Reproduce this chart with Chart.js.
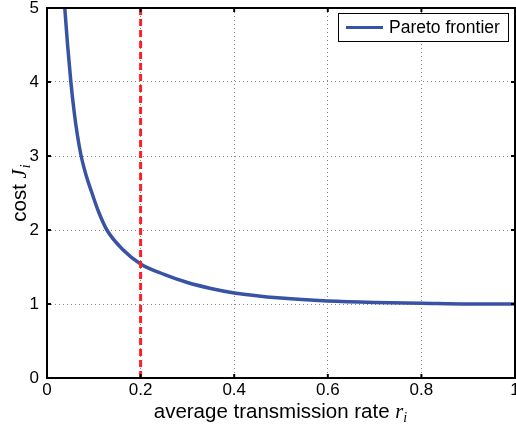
<!DOCTYPE html>
<html>
<head>
<meta charset="utf-8">
<script src="https://cdn.jsdelivr.net/npm/chart.js@4"></script>
<style>
  html, body { margin: 0; padding: 0; background: #fff; }
  #wrap { width: 516px; height: 427px; }
</style>
</head>
<body>
<div id="wrap"><canvas id="pareto_chart" width="516" height="427"></canvas></div>
<script>
// values
const rates = [0.038, 0.044, 0.051, 0.058, 0.065, 0.073, 0.084, 0.095, 0.11, 0.128, 0.163, 0.2, 0.25, 0.3, 0.35, 0.4, 0.5, 0.6, 0.7, 0.8, 0.9, 1.0];
const costs = [5.0, 4.5, 4.0, 3.6, 3.28, 3.0, 2.73, 2.52, 2.25, 2.0, 1.73, 1.54, 1.4, 1.29, 1.21, 1.15, 1.08, 1.04, 1.02, 1.01, 1.0, 1.0];
const thresholdRate = 0.2;
const xTicks = [0, 0.2, 0.4, 0.6, 0.8, 1];
const yTicks = [0, 1, 2, 3, 4, 5];

const blue = "#3853a4";
const red = "#ff1f2b";
const font = "'Liberation Sans', Arial, sans-serif";

const frontier = rates.map((r, i) => ({ x: r, y: costs[i] }));

// frame, inner tick marks, legend and axis titles (titles mix upright text and italic symbols)
const extras = {
    id: "extras",
    afterDatasetsDraw(chart) {
        const { ctx, chartArea: a, scales } = chart;
        ctx.save();
        ctx.strokeStyle = "#000";
        ctx.lineWidth = 2;
        ctx.strokeRect(a.left, a.top, a.right - a.left, a.bottom - a.top);

        ctx.lineWidth = 2;
        ctx.beginPath();
        xTicks.forEach((v) => {
            const px = scales.x.getPixelForValue(v);
            ctx.moveTo(px, a.bottom); ctx.lineTo(px, a.bottom - 4);
            ctx.moveTo(px, a.top); ctx.lineTo(px, a.top + 4);
        });
        yTicks.forEach((v) => {
            const py = scales.y.getPixelForValue(v);
            ctx.moveTo(a.left, py); ctx.lineTo(a.left + 4, py);
            ctx.moveTo(a.right, py); ctx.lineTo(a.right - 4, py);
        });
        ctx.stroke();

        // legend box
        const bx = 338, by = 13, bw = 170, bh = 28;
        ctx.fillStyle = "#fff";
        ctx.fillRect(bx, by, bw, bh);
        ctx.lineWidth = 1;
        ctx.strokeRect(bx + 0.5, by + 0.5, bw, bh);
        ctx.strokeStyle = blue;
        ctx.lineWidth = 3;
        ctx.beginPath();
        ctx.moveTo(bx + 8, by + 14.5);
        ctx.lineTo(bx + 45, by + 14.5);
        ctx.stroke();
        ctx.fillStyle = "#000";
        ctx.font = "17.5px " + font;
        ctx.textBaseline = "middle";
        ctx.fillText(chart.data.datasets[0].label, bx + 51, by + 15);
        ctx.restore();
    },
    afterDraw(chart) {
        const { ctx, chartArea: a } = chart;
        ctx.save();
        ctx.fillStyle = "#000";
        ctx.textBaseline = "alphabetic";
        const sz = 20.5;

        // x title
        const xa = "average transmission rate ";
        ctx.font = sz + "px " + font;
        const w1 = ctx.measureText(xa).width;
        ctx.font = "italic " + sz + "px 'Liberation Serif', serif";
        const w2 = ctx.measureText("r").width;
        const total = w1 + w2 + 5;
        const x = (a.left + a.right) / 2 - total / 2;
        const y = 418;
        ctx.font = sz + "px " + font;
        ctx.fillText(xa, x, y);
        ctx.font = "italic " + sz + "px 'Liberation Serif', serif";
        ctx.fillText("r", x + w1, y);
        ctx.font = "italic 14px 'Liberation Serif', serif";
        ctx.fillText("i", x + w1 + w2, y + 4);

        // y title
        ctx.translate(26, (a.top + a.bottom) / 2);
        ctx.rotate(-Math.PI / 2);
        const ya = "cost ";
        ctx.font = sz + "px " + font;
        const v1 = ctx.measureText(ya).width;
        ctx.font = "italic " + sz + "px 'Liberation Serif', serif";
        const v2 = ctx.measureText("J").width;
        const t2 = v1 + v2 + 5;
        const sx = -t2 / 2;
        ctx.font = sz + "px " + font;
        ctx.fillText(ya, sx, 0);
        ctx.font = "italic " + sz + "px 'Liberation Serif', serif";
        ctx.fillText("J", sx + v1, 0);
        ctx.font = "italic 14px 'Liberation Serif', serif";
        ctx.fillText("i", sx + v1 + v2 + 1, 4);
        ctx.restore();
    }
};

new Chart(document.getElementById("pareto_chart"), {
    type: "scatter",
    data: {
        datasets: [
            {
                label: "Pareto frontier",
                data: frontier,
                showLine: true,
                borderColor: blue,
                borderWidth: 3.5,
                pointRadius: 0,
                cubicInterpolationMode: "monotone",
                order: 2,
            },
            {
                label: "threshold",
                data: [{ x: thresholdRate, y: yTicks[0] }, { x: thresholdRate, y: yTicks[yTicks.length - 1] }],
                showLine: true,
                borderColor: red,
                borderWidth: 3,
                borderDash: [7, 4],
                pointRadius: 0,
                order: 1,
            },
        ],
    },
    options: {
        responsive: false,
        animation: false,
        layout: { padding: { left: 0, top: 8, right: 1, bottom: 0 } },
        plugins: { legend: { display: false }, tooltip: { enabled: false } },
        scales: {
            x: {
                type: "linear",
                min: xTicks[0],
                max: xTicks[xTicks.length - 1],
                afterBuildTicks: (s) => { s.ticks = xTicks.map((v) => ({ value: v })); },
                afterFit: (s) => { s.height = 49; s.paddingLeft = 0; s.paddingRight = 0; },
                ticks: {
                    color: "#000",
                    font: { family: font, size: 17 },
                    padding: 2,
                    maxRotation: 0,
                    callback: (v) => String(v),
                },
                grid: { color: "#888", lineWidth: 1, drawTicks: false },
                border: { display: false, dash: [1, 3] },
            },
            y: {
                type: "linear",
                min: yTicks[0],
                max: yTicks[yTicks.length - 1],
                afterBuildTicks: (s) => { s.ticks = yTicks.map((v) => ({ value: v })); },
                afterFit: (s) => { s.width = 47; s.paddingTop = 0; s.paddingBottom = 0; },
                ticks: {
                    color: "#000",
                    font: { family: font, size: 17 },
                    padding: 8,
                },
                grid: { color: "#888", lineWidth: 1, drawTicks: false },
                border: { display: false, dash: [1, 3] },
            },
        },
    },
    plugins: [extras],
});
</script>
</body>
</html>
